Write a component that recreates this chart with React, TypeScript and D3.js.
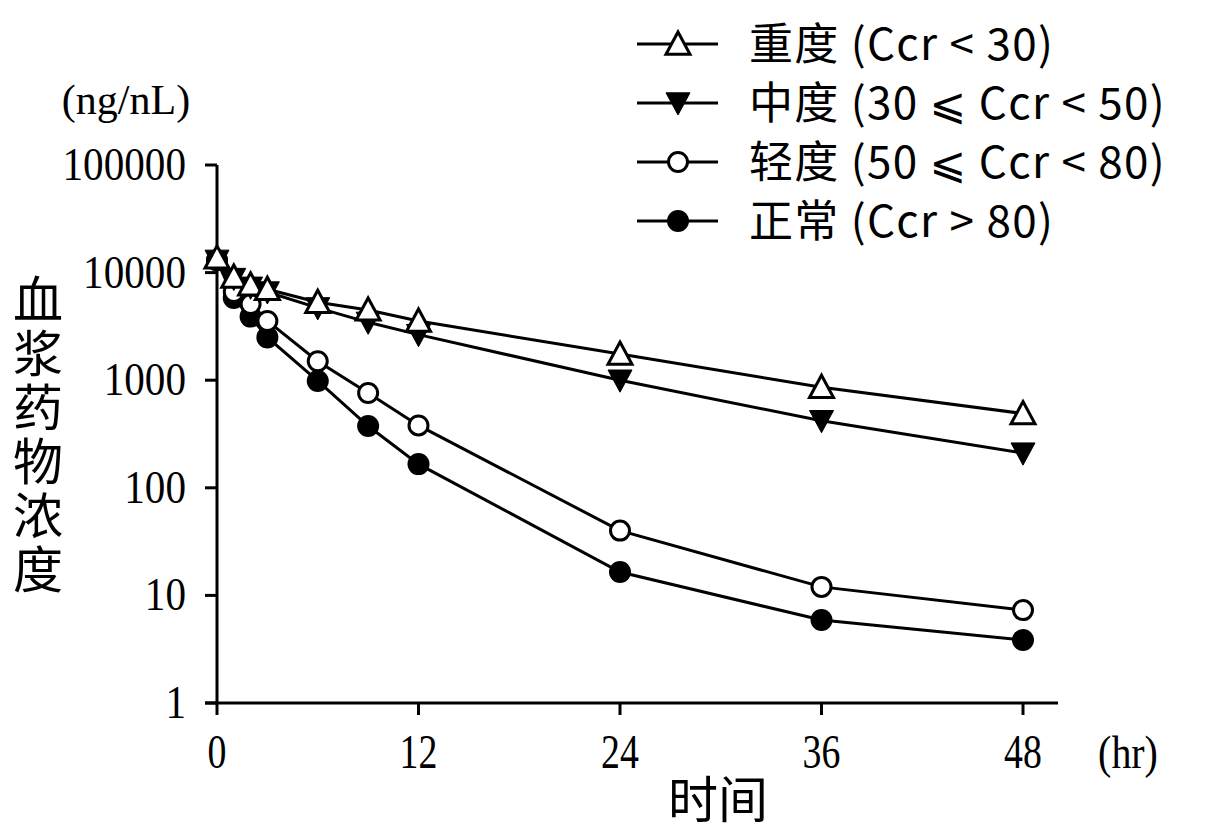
import * as d3 from "d3";

const times = [0, 1, 2, 3, 6, 9, 12, 24, 36, 48];
const severe = [13700, 9100, 7700, 7000, 5300, 4500, 3550, 1750, 860, 490];
const moderate = [13000, 8800, 7300, 6600, 4700, 3450, 2650, 1000, 420, 210];
const mild = [13000, 6600, 5100, 3550, 1500, 760, 380, 40, 12, 7.3];
const normal = [13000, 5800, 3900, 2500, 985, 375, 166, 16.5, 5.9, 3.85];

const xTicks = [0, 12, 24, 36, 48];
const yTicks = [1, 10, 100, 1000, 10000, 100000];

const legendLabels = [
  "重度 (Ccr < 30)",
  "中度 (30 ⩽ Ccr < 50)",
  "轻度 (50 ⩽ Ccr < 80)",
  "正常 (Ccr > 80)",
];
const markerKinds = ["tri", "invtri", "open", "filled"];

const serif = "'Liberation Serif', 'DejaVu Serif', serif";
const sans = "'Noto Sans CJK SC', 'Noto Sans', 'DejaVu Sans', sans-serif";

function Marker({ kind, x, y }: { kind: string; x: number; y: number }) {
  const s = 12;
  if (kind === "tri") {
    return (
      <path
        d={`M${x},${y - s} L${x + s},${y + s * 0.85} L${x - s},${y + s * 0.85} Z`}
        fill="#fff"
        stroke="#000"
        strokeWidth={3}
      />
    );
  }
  if (kind === "invtri") {
    return (
      <path
        d={`M${x},${y + s} L${x + s},${y - s * 0.85} L${x - s},${y - s * 0.85} Z`}
        fill="#000"
        stroke="#000"
        strokeWidth={1}
      />
    );
  }
  if (kind === "open") {
    return <circle cx={x} cy={y} r={9.5} fill="#fff" stroke="#000" strokeWidth={3} />;
  }
  return <circle cx={x} cy={y} r={11} fill="#000" />;
}

export default function App() {
  const x = d3.scaleLinear().domain([0, 48]).range([217, 1023]);
  const y = d3.scaleLog().domain([1, 100000]).range([703, 165]);

  // drawn bottom to top so the triangles sit over the circles
  const series = [
    { kind: "filled", values: normal },
    { kind: "open", values: mild },
    { kind: "invtri", values: moderate },
    { kind: "tri", values: severe },
  ];

  const line = d3
    .line<number>()
    .x((_, i) => x(times[i]))
    .y((v) => y(v));

  return (
    <svg
      width={1216}
      height={832}
      style={{ position: "absolute", left: 0, top: 0, background: "#fff" }}
    >
      {/* axes */}
      <line x1={x(0)} x2={x(0)} y1={y(100000)} y2={y(1)} stroke="#000" strokeWidth={3} />
      <line x1={205} x2={1058} y1={y(1)} y2={y(1)} stroke="#000" strokeWidth={3} />
      {yTicks.map((t) => (
        <g key={t}>
          <line x1={x(0) - 12} x2={x(0)} y1={y(t)} y2={y(t)} stroke="#000" strokeWidth={3} />
          <text
            transform={`translate(186,${y(t) + 15}) scale(0.98,1.1)`}
            textAnchor="end"
            fontFamily={serif}
            fontSize={42}
          >
            {t}
          </text>
        </g>
      ))}
      {xTicks.map((t) => (
        <g key={t}>
          <line x1={x(t)} x2={x(t)} y1={y(1)} y2={y(1) + 12} stroke="#000" strokeWidth={3} />
          <text
            transform={`translate(${x(t)},768) scale(0.9,1.15)`}
            textAnchor="middle"
            fontFamily={serif}
            fontSize={42}
          >
            {t}
          </text>
        </g>
      ))}
      <text
        transform="translate(1128,768) scale(0.95,1.1)"
        textAnchor="middle"
        fontFamily={serif}
        fontSize={42}
      >
        (hr)
      </text>
      <text x={126} y={114} textAnchor="middle" fontFamily={serif} fontSize={42}>
        (ng/nL)
      </text>
      <text
        x={38}
        y={274}
        fontFamily={sans}
        fontSize={50}
        letterSpacing={4}
        style={{ writingMode: "vertical-rl", textOrientation: "upright" }}
      >
        血浆药物浓度
      </text>
      <text x={718} y={800} dy="0.36em" textAnchor="middle" fontFamily={sans} fontSize={50}>
        时间
      </text>

      {/* series */}
      {series.map((s) => (
        <g key={s.kind}>
          <path d={line(s.values) || ""} fill="none" stroke="#000" strokeWidth={3} />
          {s.values.map((v, i) => (
            <Marker key={i} kind={s.kind} x={x(times[i])} y={y(v)} />
          ))}
        </g>
      ))}

      {/* legend */}
      {legendLabels.map((label, i) => {
        const ly = 44 + i * 59;
        return (
          <g key={label}>
            <line x1={637} x2={718} y1={ly} y2={ly} stroke="#000" strokeWidth={3} />
            <Marker kind={markerKinds[i]} x={678} y={ly} />
            <text
              x={749}
              y={ly}
              dy="0.36em"
              fontFamily={sans}
              fontSize={44}
              letterSpacing={1.3}
            >
              {label}
            </text>
          </g>
        );
      })}
    </svg>
  );
}
